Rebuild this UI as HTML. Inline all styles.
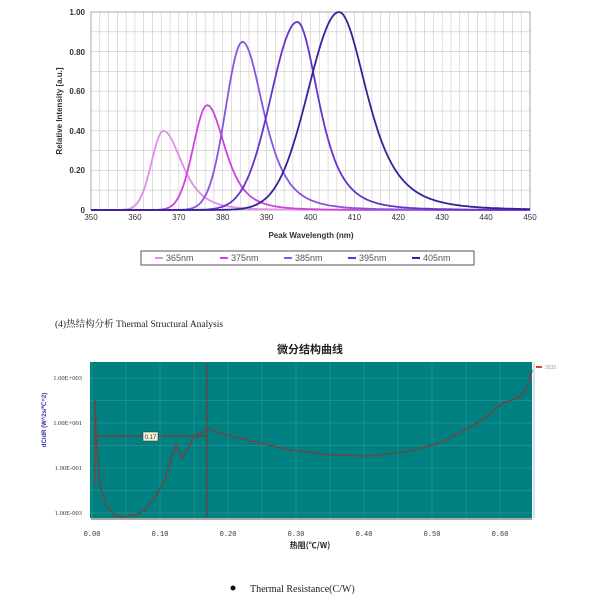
<!DOCTYPE html>
<html><head><meta charset="utf-8"><style>
body{margin:0;background:#fff;width:600px;height:600px;overflow:hidden}
svg{position:absolute;left:0;top:0}
</style></head><body>
<svg id="s" width="600" height="600" xmlns="http://www.w3.org/2000/svg" font-family="Liberation Sans,sans-serif">
<g id="grid"></g>
<g id="curves" fill="none" stroke-width="1.8"></g>
<g font-size="8" fill="#333" text-anchor="end" font-weight="bold">
<text x="85" y="15">1.00</text><text x="85" y="55">0.80</text><text x="85" y="94">0.60</text><text x="85" y="134">0.40</text><text x="85" y="173">0.20</text><text x="85" y="213">0</text>
</g>
<g id="xl" font-size="8" fill="#333" text-anchor="middle"></g>
<text x="62" y="111" font-size="8" font-weight="bold" fill="#333" text-anchor="middle" transform="rotate(-90 62 111)">Relative Intensity [a.u.]</text>
<text x="311" y="238" font-size="8" font-weight="bold" fill="#333" text-anchor="middle">Peak Wavelength (nm)</text>
<rect x="141" y="251" width="333" height="14" fill="#fff" stroke="#555" stroke-width="1"/>
<g font-size="9" fill="#555">
<line x1="155" y1="258" x2="163" y2="258" stroke="#e08ee8" stroke-width="2"/><text x="166" y="261">365nm</text>
<line x1="220" y1="258" x2="228" y2="258" stroke="#cc44dd" stroke-width="2"/><text x="231" y="261">375nm</text>
<line x1="284" y1="258" x2="292" y2="258" stroke="#8855dd" stroke-width="2"/><text x="295" y="261">385nm</text>
<line x1="348" y1="258" x2="356" y2="258" stroke="#6633cc" stroke-width="2"/><text x="359" y="261">395nm</text>
<line x1="412" y1="258" x2="420" y2="258" stroke="#3a1f9a" stroke-width="2"/><text x="423" y="261">405nm</text>
</g>
<text x="55" y="327" font-size="9.5" fill="#222" font-family="Liberation Serif,Noto Serif CJK SC,serif">(4)热结构分析 Thermal Structural Analysis</text>
<text x="310" y="353" font-size="11" font-weight="bold" fill="#222" text-anchor="middle" font-family="Noto Sans CJK SC,sans-serif">微分结构曲线</text>
<rect x="90" y="362" width="442" height="156" fill="#008080"/>
<g id="g2" stroke="#3f9c9c" stroke-width="0.5"></g>
<line x1="91" y1="519" x2="532" y2="519" stroke="#555" stroke-width="1"/>
<g font-size="6.5" fill="#333" text-anchor="end" font-family="Liberation Serif,serif">
<text x="82" y="380">1.00E+003</text><text x="82" y="425">1.00E+001</text><text x="82" y="470">1.00E-001</text><text x="82" y="515">1.00E-003</text></g>
<g id="xl2" font-size="7" fill="#333" text-anchor="middle" font-family="Liberation Mono,monospace"></g>
<text x="46" y="420" font-size="6" font-weight="bold" fill="#3333aa" text-anchor="middle" transform="rotate(-90 46 420)">dC/dR (W^2s/℃^2)</text>
<text x="310" y="548" font-size="8" font-weight="bold" fill="#222" text-anchor="middle" font-family="Noto Sans CJK SC,sans-serif">热阻(℃/W)</text>
<line x1="207" y1="362" x2="207" y2="518" stroke="#7a3a3a" stroke-width="1.2"/>
<line x1="95" y1="436" x2="207" y2="436" stroke="#7a3a3a" stroke-width="1.2"/>
<line x1="95" y1="400" x2="95" y2="485" stroke="#8a3a3a" stroke-width="1.2"/>
<path d="M95,400 L97,450 L100,485 L106,505 L114,515 L122,517 L135,515 L145,510 L155,497 L165,480 L172,455 L176,445 L182,458 L188,448 L195,435 L203,432 L208,428 L215,431 L230,436 L260,443 L290,450 L330,455 L370,456 L410,451 L440,443 L465,430 L485,418 L503,403 L520,397 L527,388 L532,370" fill="none" stroke="#6a4848" stroke-width="1.6"/>
<rect x="143" y="432" width="15" height="9" fill="#f5f0d8" stroke="#333" stroke-width="0.5"/>
<text x="150.5" y="439" font-size="6" text-anchor="middle" fill="#333">0.17</text>
<line x1="536" y1="367" x2="542" y2="367" stroke="#cc0000" stroke-width="1.5"/>
<text x="545" y="369" font-size="5" fill="#999">3535</text>
<circle cx="233" cy="588" r="2.5" fill="#111"/>
<text x="250" y="592" font-size="10" fill="#222" font-family="Liberation Serif,serif">Thermal Resistance(C/W)</text>
</svg>
<script>
var NS="http://www.w3.org/2000/svg";
function el(p,t,a,txt){var e=document.createElementNS(NS,t);for(var k in a)e.setAttribute(k,a[k]);if(txt)e.textContent=txt;document.getElementById(p).appendChild(e);}
var X0=91,X1=530,Y0=210,Y1=12;
function px(x){return X0+(x-350)/100*(X1-X0);}function py(y){return Y0-y*(Y0-Y1);}
for(var x=350;x<=450;x+=2)el("grid","line",{x1:px(x),y1:Y1,x2:px(x),y2:Y0,stroke:"#c8c8c8","stroke-width":0.6});
for(var y=0;y<=1.001;y+=0.1)el("grid","line",{x1:X0,y1:py(y),x2:X1,y2:py(y),stroke:"#c8c8c8","stroke-width":0.6});
el("grid","rect",{x:X0,y:Y1,width:X1-X0,height:Y0-Y1,fill:"none",stroke:"#999","stroke-width":0.8});
for(var x=350;x<=450;x+=10)el("xl","text",{x:px(x),y:Y0+10},""+x);
var C=[[366.5,.40,2.7,7.7,"#e08ee8"],[376.5,.53,3.2,7.4,"#cc44dd"],[384.5,.85,3.8,8.8,"#8855dd"],[397,.95,6,8.8,"#6633cc"],[406.5,1,7,11.6,"#3a1f9a"]];
C.forEach(function(c){var d="";for(var x=350;x<=450;x+=0.5){var t=x-c[0],q=1+(t/c[3])*(t/c[3]),v=t<0?c[1]*Math.exp(-t*t/(2*c[2]*c[2])):c[1]/(q*q);d+=(d?"L":"M")+px(x).toFixed(1)+","+py(v).toFixed(1);}el("curves","path",{d:d,stroke:c[4]});});
for(var i=0;i<=13;i++){var xx=92+i*34;el("g2","line",{x1:xx,y1:362,x2:xx,y2:518});if(i%2==0)el("xl2","text",{x:xx,y:536},(i*0.05).toFixed(2));}
for(var j=0;j<7;j++){var yy=378+j*22.5;el("g2","line",{x1:90,y1:yy,x2:532,y2:yy});}
</script>
</body></html>
